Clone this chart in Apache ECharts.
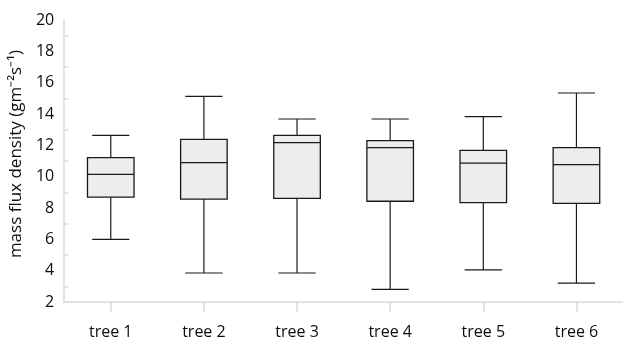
<!DOCTYPE html>
<html>
<head>
<meta charset="utf-8">
<style>
  html, body { margin: 0; padding: 0; background: #fff; }
  #chart { width: 623px; height: 341px; }
</style>
<script src="https://cdn.jsdelivr.net/npm/echarts@6/dist/echarts.min.js"></script>
</head>
<body>
<div id="chart"></div>
<script>
// Mass flux density summary per tree
const categories = ['tree 1', 'tree 2', 'tree 3', 'tree 4', 'tree 5', 'tree 6'];
const whiskerLow  = [6.0, 3.85, 3.85, 2.8, 4.05, 3.2];
const quartile1   = [8.7, 8.57, 8.62, 8.43, 8.34, 8.3];
const medians     = [10.15, 10.9, 12.17, 11.85, 10.87, 10.77];
const quartile3   = [11.21, 12.38, 12.64, 12.3, 11.68, 11.85];
const whiskerHigh = [12.64, 15.13, 13.68, 13.68, 13.83, 15.34];
const yTicks = { min: 2, max: 20, step: 2 };

const rows = categories.map((c, i) => [i, whiskerLow[i], quartile1[i], medians[i], quartile3[i], whiskerHigh[i]]);

const FONT = 'Open Sans';
const LINE = '#1a1a1a';
const TEXT = '#0d0d0d';

function renderBox(params, api) {
  const idx = api.value(0);
  const band = api.size([1, 0])[0];
  const boxHalf = band * 0.25;
  const capHalf = band * 0.2;
  const pLow = api.coord([idx, api.value(1)]);
  const pQ1 = api.coord([idx, api.value(2)]);
  const pMed = api.coord([idx, api.value(3)]);
  const pQ3 = api.coord([idx, api.value(4)]);
  const pHigh = api.coord([idx, api.value(5)]);
  const cx = pMed[0];
  const ls = { stroke: LINE, lineWidth: 1.2 };
  return {
    type: 'group',
    children: [
      { type: 'line', shape: { x1: cx, y1: pQ3[1], x2: cx, y2: pHigh[1] }, style: ls },
      { type: 'line', shape: { x1: cx, y1: pQ1[1], x2: cx, y2: pLow[1] }, style: ls },
      { type: 'line', shape: { x1: cx - capHalf, y1: pHigh[1], x2: cx + capHalf, y2: pHigh[1] }, style: ls },
      { type: 'line', shape: { x1: cx - capHalf, y1: pLow[1], x2: cx + capHalf, y2: pLow[1] }, style: ls },
      { type: 'rect', shape: { x: cx - boxHalf, y: pQ3[1], width: boxHalf * 2, height: pQ1[1] - pQ3[1] },
        style: { fill: '#ededed', stroke: LINE, lineWidth: 1.3 } },
      { type: 'line', shape: { x1: cx - boxHalf, y1: pMed[1], x2: cx + boxHalf, y2: pMed[1] },
        style: { stroke: LINE, lineWidth: 1.3 } }
    ]
  };
}

const chart = echarts.init(document.getElementById('chart'), null, { renderer: 'canvas' });
chart.setOption({
  animation: false,
  backgroundColor: '#ffffff',
  grid: { left: 63, top: 20, width: 565, bottom: 39, containLabel: false },
  xAxis: {
    type: 'category',
    data: categories,
    boundaryGap: true,
    axisLine: { show: true, lineStyle: { color: '#d9d9d9', width: 1.5 } },
    axisTick: { show: true, alignWithLabel: true, length: 10, lineStyle: { color: '#d9d9d9', width: 1.5 } },
    axisLabel: { color: TEXT, fontFamily: FONT, fontSize: 16, margin: 22 },
    splitLine: { show: false }
  },
  yAxis: {
    type: 'value',
    min: yTicks.min,
    max: yTicks.max,
    interval: yTicks.step,
    name: '{t|mass flux density (gm\u207B\u00B2s\u207B\u00B9)}',
    nameLocation: 'middle',
    nameGap: 35,
    nameTextStyle: {
      color: TEXT, fontFamily: FONT, fontSize: 17,
      rich: { t: { color: TEXT, fontFamily: FONT, fontSize: 17, padding: [0, 0, 0, 14] } }
    },
    axisLine: { show: true, lineStyle: { color: '#d9d9d9', width: 1.5 } },
    axisTick: { show: false, inside: true },
    minorTick: { show: true, splitNumber: 2, length: 4, lineStyle: { color: '#d9d9d9', width: 1.5 } },
    axisLabel: { color: TEXT, fontFamily: FONT, fontSize: 16, margin: 10 },
    splitLine: { show: false }
  },
  series: [{
    type: 'custom',
    renderItem: renderBox,
    encode: { x: 0, y: [1, 2, 3, 4, 5] },
    data: rows
  }]
});
</script>
</body>
</html>
